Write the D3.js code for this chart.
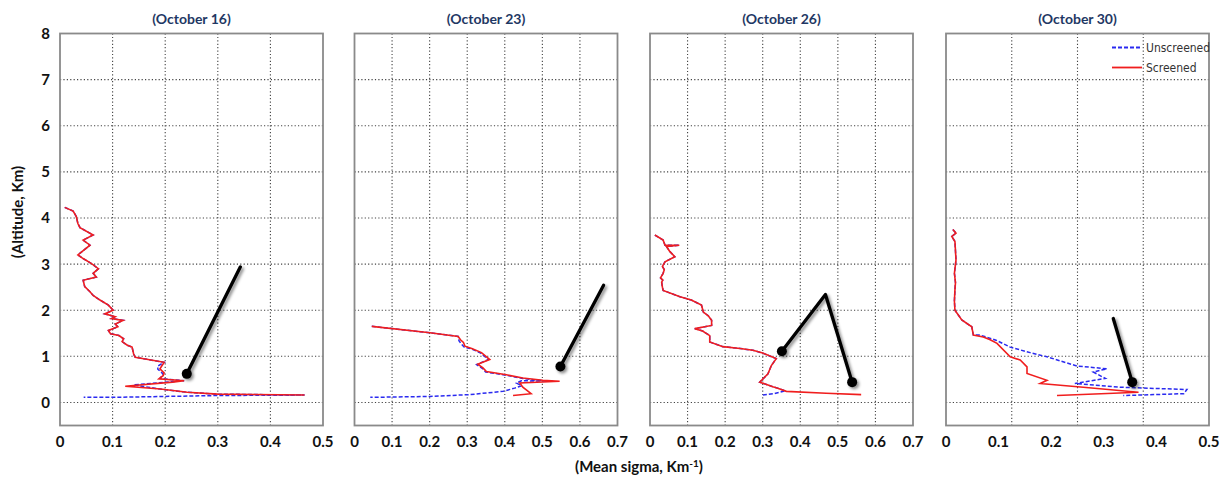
<!DOCTYPE html>
<html lang="en">
<head>
<meta charset="UTF-8">
<title>Mean sigma profiles</title>
<script src="https://cdn.jsdelivr.net/npm/d3@7"></script>
<style>
  body { margin: 0; padding: 0; background: #fff; overflow: hidden; }
  svg { display: block; }
  .tick-label { font: bold 15px Lato, "Open Sans", sans-serif; fill: #111; }
  .title { font: bold 14px Lato, "Open Sans", sans-serif; fill: #1f3864; }
  .axis-title { font: bold 15px Lato, "Open Sans", sans-serif; fill: #111; }
  .legend text { font: 12px "Liberation Sans Narrow", "DejaVu Sans Condensed", sans-serif; font-stretch: condensed; fill: #333; }
</style>
</head>
<body>
<div id="chart"></div>
<script>
// panel setup
const panelTitles = ["(October 16)", "(October 23)", "(October 26)", "(October 30)"];
const xMaxes = [0.5, 0.7, 0.7, 0.5];
const gridMaxes = [0.5, 0.7, 0.7, 0.4];   // last panel grid does not match its labels
const yTicks = [0, 1, 2, 3, 4, 5, 6, 7, 8];

// [mean sigma, altitude km]
const oct16Upper = [[0.009,4.23],[0.025,4.15],[0.031,4.03],[0.034,3.88],[0.038,3.79],[0.063,3.63],
  [0.044,3.52],[0.057,3.41],[0.034,3.20],[0.044,3.12],[0.060,3.01],[0.073,2.90],[0.063,2.80],
  [0.069,2.72],[0.044,2.65],[0.047,2.51],[0.057,2.40],[0.063,2.32],[0.076,2.22],[0.092,2.11],
  [0.101,2.00],[0.085,1.92],[0.105,1.86],[0.098,1.82],[0.120,1.78],[0.105,1.70],[0.110,1.64],
  [0.092,1.56],[0.096,1.49],[0.112,1.45],[0.121,1.38],[0.118,1.32],[0.128,1.24],[0.137,1.20],
  [0.140,1.05],[0.143,0.98],[0.198,0.87]];
const oct16Screened = oct16Upper.concat([[0.194,0.80],[0.190,0.73],[0.198,0.64],[0.196,0.58],
  [0.188,0.51],[0.236,0.47],[0.214,0.44],[0.124,0.35],[0.191,0.29],[0.242,0.22],[0.300,0.18],[0.465,0.16]]);
const oct16Unscreened = oct16Upper.concat([[0.186,0.79],[0.186,0.72],[0.196,0.62],[0.190,0.52],
  [0.236,0.47],[0.140,0.38],[0.191,0.29],[0.242,0.22],[0.300,0.18],[0.465,0.16],[0.300,0.15],
  [0.200,0.13],[0.100,0.11],[0.045,0.11]]);

const oct23Upper = [[0.046,1.65],[0.201,1.51],[0.276,1.43]];
const oct23Screened = oct23Upper.concat([[0.282,1.36],[0.290,1.30],[0.294,1.22],[0.312,1.17],
  [0.338,1.08],[0.360,0.93],[0.328,0.83],[0.342,0.75],[0.351,0.67],[0.404,0.60],[0.448,0.53],
  [0.501,0.48],[0.546,0.46],[0.440,0.42],[0.448,0.33],[0.470,0.19],[0.422,0.15]]);
const oct23Unscreened = oct23Upper.concat([[0.278,1.34],[0.283,1.28],[0.292,1.20],[0.312,1.16],
  [0.336,1.07],[0.356,0.93],[0.325,0.82],[0.340,0.74],[0.349,0.66],[0.404,0.59],[0.448,0.52],
  [0.501,0.47],[0.530,0.46],[0.444,0.47],[0.431,0.42],[0.445,0.36],[0.426,0.31],[0.395,0.24],
  [0.307,0.17],[0.200,0.13],[0.042,0.11]]);

const oct26Upper = [[0.013,3.63],[0.035,3.52],[0.040,3.41],[0.078,3.41],[0.044,3.38],[0.053,3.27],
  [0.066,3.16],[0.040,3.05],[0.033,2.95],[0.038,2.88],[0.035,2.80],[0.028,2.70],[0.034,2.65],
  [0.031,2.61],[0.033,2.50],[0.035,2.43],[0.080,2.29],[0.110,2.22],[0.137,2.11],[0.142,1.96],
  [0.155,1.88],[0.164,1.78],[0.164,1.67],[0.119,1.60],[0.140,1.55],[0.159,1.45],[0.159,1.31],
  [0.194,1.21],[0.240,1.17],[0.274,1.13],[0.300,1.07],[0.336,0.95],[0.323,0.80],[0.314,0.62],
  [0.292,0.44],[0.327,0.34],[0.340,0.31]];
const oct26Screened = oct26Upper.concat([[0.363,0.24],[0.469,0.20],[0.562,0.17]]);
const oct26Unscreened = oct26Upper.concat([[0.360,0.25],[0.330,0.19],[0.296,0.16]]);

const oct30Upper = [[0.013,3.75],[0.019,3.67],[0.011,3.60],[0.017,3.49],[0.019,3.09],[0.016,2.80],
  [0.018,2.60],[0.017,2.44],[0.016,2.20],[0.017,2.00],[0.030,1.79],[0.049,1.64],[0.052,1.46]];
const oct30Screened = oct30Upper.concat([[0.071,1.42],[0.084,1.36],[0.097,1.28],[0.122,0.99],
  [0.141,0.92],[0.154,0.77],[0.154,0.63],[0.192,0.48],[0.179,0.41],[0.261,0.33],[0.366,0.22],[0.211,0.15]]);
const oct30Unscreened = oct30Upper.concat([[0.065,1.46],[0.095,1.35],[0.122,1.20],[0.160,1.08],
  [0.192,0.99],[0.249,0.79],[0.306,0.73],[0.280,0.66],[0.303,0.52],[0.245,0.41],[0.331,0.33],
  [0.458,0.28],[0.452,0.19],[0.337,0.15]]);

const screenedSeries = [oct16Screened, oct23Screened, oct26Screened, oct30Screened];
const unscreenedSeries = [oct16Unscreened, oct23Unscreened, oct26Unscreened, oct30Unscreened];

// black pointer lines drawn on the figure, dot at the first point
const pointers = [
  [[0.241,0.62],[0.343,2.94]],
  [[0.548,0.78],[0.663,2.54]],
  [[0.351,1.11],[0.467,2.34],[0.538,0.44]],
  [[0.354,0.44],[0.318,1.82]]
];
const pointerDots = [[[0.241,0.62]], [[0.548,0.78]], [[0.351,1.11],[0.538,0.44]], [[0.354,0.44]]];

const legendNames = ["Unscreened", "Screened"];

const width = 1222, height = 478;
const panelLeft = [60, 354.5, 650, 946];
const panelW = 263, panelTop = 33.5, panelH = 392;

const svg = d3.select("#chart").append("svg")
  .attr("width", width)
  .attr("height", height);

const defs = svg.append("defs");
defs.append("filter").attr("id", "shadow")
  .attr("x", "-50%").attr("y", "-50%").attr("width", "200%").attr("height", "200%")
  .append("feDropShadow")
  .attr("dx", 2).attr("dy", 2).attr("stdDeviation", 1.8)
  .attr("flood-color", "#000").attr("flood-opacity", 0.45);

const y = d3.scaleLinear().domain([-0.5, 8]).range([panelTop + panelH, panelTop]);
const fmt = d => d === 0 ? "0" : d3.format(".1f")(d);

panelTitles.forEach((title, i) => {
  const x = d3.scaleLinear().domain([0, xMaxes[i]]).range([panelLeft[i], panelLeft[i] + panelW]);
  const xGrid = d3.scaleLinear().domain([0, gridMaxes[i]]).range([panelLeft[i], panelLeft[i] + panelW]);
  const g = svg.append("g");

  // gridlines
  g.selectAll(".vgrid")
    .data(xGrid.ticks(Math.round(gridMaxes[i] * 10)).filter(t => t > 0 && t < gridMaxes[i] - 1e-9))
    .enter().append("line")
    .attr("x1", d => xGrid(d)).attr("x2", d => xGrid(d))
    .attr("y1", panelTop).attr("y2", panelTop + panelH)
    .attr("stroke", "#444").attr("stroke-width", 1.1).attr("stroke-dasharray", "1.2,2.2");

  g.selectAll(".hgrid")
    .data(yTicks.filter(t => t < 8))
    .enter().append("line")
    .attr("x1", panelLeft[i]).attr("x2", panelLeft[i] + panelW)
    .attr("y1", d => y(d)).attr("y2", d => y(d))
    .attr("stroke", "#444").attr("stroke-width", 1.1).attr("stroke-dasharray", "1.2,2.2");

  g.append("rect")
    .attr("x", panelLeft[i]).attr("y", panelTop)
    .attr("width", panelW).attr("height", panelH)
    .attr("fill", "none").attr("stroke", "#8a8a8a").attr("stroke-width", 1.8);

  // x tick labels
  g.selectAll(".xlab")
    .data(d3.range(0, xMaxes[i] + 1e-9, 0.1))
    .enter().append("text")
    .attr("class", "tick-label")
    .attr("x", d => x(d)).attr("y", panelTop + panelH + 21)
    .attr("text-anchor", "middle")
    .text(d => fmt(+d.toFixed(1)));

  g.append("text")
    .attr("class", "title")
    .attr("x", panelLeft[i] + panelW / 2).attr("y", 24)
    .attr("text-anchor", "middle")
    .text(title);

  const line = d3.line().x(d => x(d[0])).y(d => y(d[1]));

  g.append("path")
    .datum(unscreenedSeries[i])
    .attr("d", line)
    .attr("fill", "none").attr("stroke", "#2a2af0").attr("stroke-width", 1.5)
    .attr("stroke-dasharray", "4,2");

  g.append("path")
    .datum(screenedSeries[i])
    .attr("d", line)
    .attr("fill", "none").attr("stroke", "#f01e1e").attr("stroke-width", 1.6);

  const ptr = g.append("g").attr("filter", "url(#shadow)");
  ptr.append("path")
    .datum(pointers[i])
    .attr("d", line)
    .attr("fill", "none").attr("stroke", "#000").attr("stroke-width", 3.3)
    .attr("stroke-linejoin", "round").attr("stroke-linecap", "round");
  ptr.selectAll("circle")
    .data(pointerDots[i])
    .enter().append("circle")
    .attr("cx", d => x(d[0])).attr("cy", d => y(d[1]))
    .attr("r", 5).attr("fill", "#000");
});

// y axis labels only on first panel
svg.selectAll(".ylab")
  .data(yTicks)
  .enter().append("text")
  .attr("class", "tick-label")
  .attr("x", 50).attr("y", d => y(d) + 5.5)
  .attr("text-anchor", "end")
  .text(d => d);

svg.append("text")
  .attr("class", "axis-title")
  .attr("transform", "translate(23,212) rotate(-90)")
  .attr("text-anchor", "middle")
  .text("(Altitude, Km)");

const xTitle = svg.append("text")
  .attr("class", "axis-title")
  .attr("x", 639).attr("y", 472)
  .attr("text-anchor", "middle");
xTitle.append("tspan").text("(Mean sigma, Km");
xTitle.append("tspan").attr("dy", -5).attr("font-size", 10).text("-1");
xTitle.append("tspan").attr("dy", 5).text(")");

// legend in last panel
const legend = svg.append("g").attr("class", "legend");
legendNames.forEach((name, k) => {
  const ly = 47.5 + k * 20;
  legend.append("line")
    .attr("x1", 1112).attr("x2", 1142).attr("y1", ly).attr("y2", ly)
    .attr("stroke", k === 0 ? "#2a2af0" : "#f01e1e")
    .attr("stroke-width", k === 0 ? 2 : 1.8)
    .attr("stroke-dasharray", k === 0 ? "4,2" : null);
  legend.append("text")
    .attr("x", 1146).attr("y", ly + 4.5)
    .text(name);
});
</script>
</body>
</html>
